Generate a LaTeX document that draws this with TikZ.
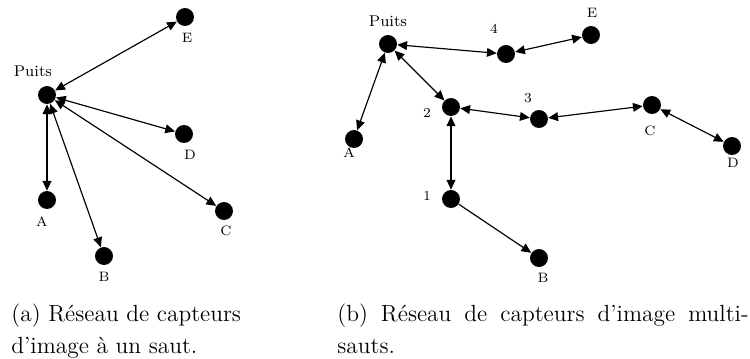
\documentclass[tikz,border=0pt]{standalone}
\usetikzlibrary{arrows.meta}
\begin{document}
\begin{tikzpicture}[%
          x=0.513pt, y=-0.513pt,
          dot/.style={circle, fill=black, minimum size=9.2pt, inner sep=0pt},
          lbl/.style={font=\fontsize{7}{8}\selectfont, inner sep=0pt},
          sink/.style={font=\fontsize{8}{9}\selectfont, inner sep=0pt},
          link/.style={{Triangle[length=5pt,width=4.5pt]}-{Triangle[length=5pt,width=4.5pt]}, line width=0.6pt},
          capt/.style={font=\fontsize{12}{16}\selectfont, inner sep=0pt, anchor=base west}]
          \useasboundingbox (0,0) rectangle (750,358);
          % (a) un saut
          \node[dot] (pa) at (47,95) {};
          \node[dot] (ea) at (185,17) {};
          \node[dot] (da) at (184,134) {};
          \node[dot] (ca) at (224,211) {};
          \node[dot] (ba) at (104,256) {};
          \node[dot] (aa) at (47,200) {};
          \node[sink] (lpa) at (33,71) {Puits};
          \node[lbl] (lea) at (187,38) {E};
          \node[lbl] (lda) at (190,155) {D};
          \node[lbl] (lca) at (226,231) {C};
          \node[lbl] (lba) at (104,277) {B};
          \node[lbl] (laa) at (42,222) {A};
          \draw[link] (pa) -- (ea);
          \draw[link] (pa) -- (da);
          \draw[link] (pa) -- (ca);
          \draw[link] (pa) -- (ba);
          \draw[link] (pa) -- (aa);
          % (b) multi-sauts
          \node[dot] (pb) at (388,44) {};
          \node[dot] (n4) at (506,54) {};
          \node[dot] (eb) at (591,35) {};
          \node[dot] (n2) at (451,107) {};
          \node[dot] (n3) at (539,119) {};
          \node[dot] (cb) at (652,105) {};
          \node[dot] (db) at (732,146) {};
          \node[dot] (ab) at (354,139) {};
          \node[dot] (n1) at (451,199) {};
          \node[dot] (bb) at (539,258) {};
          \node[sink] (lpb) at (388,21) {Puits};
          \node[lbl] (l4) at (494,29) {4};
          \node[lbl] (leb) at (592,13) {E};
          \node[lbl] (l2) at (427,113) {2};
          \node[lbl] (l3) at (528,98) {3};
          \node[lbl] (lcb) at (650,131) {C};
          \node[lbl] (ldb) at (733,163) {D};
          \node[lbl] (lab) at (349,153) {A};
          \node[lbl] (l1) at (427,196) {1};
          \node[lbl] (lbb) at (543,278) {B};
          \draw[link] (pb) -- (n4);
          \draw[link] (n4) -- (eb);
          \draw[link] (pb) -- (ab);
          \draw[link] (pb) -- (n2);
          \draw[link] (n2) -- (n3);
          \draw[link] (n3) -- (cb);
          \draw[link] (cb) -- (db);
          \draw[link] (n2) -- (n1);
          \draw[line width=0.6pt, -{Triangle[length=5pt,width=4.5pt]}] (n1) -- (bb);
          % legendes
          \node[capt] (capa1) at (11,321) {(a) Réseau de capteurs};
          \node[capt] (capa2) at (11,353) {d'image à un saut.};
          \node[capt] (capb1) at (337,321) {\makebox[211pt][s]{(b) Réseau de capteurs d'image multi-}};
          \node[capt] (capb2) at (337,353) {sauts.};
        \end{tikzpicture}
\end{document}
